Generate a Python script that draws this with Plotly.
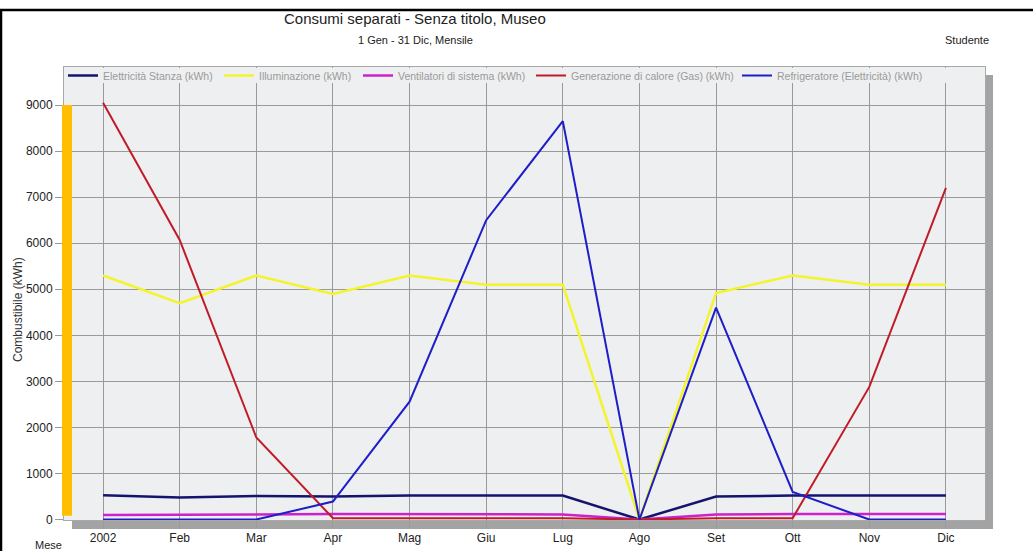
import plotly.graph_objects as go

W, H = 1033, 551
L, R, T, B = 64, 48, 67, 31
PW, PH = W - L - R, H - T - B

mesi = ["2002", "Feb", "Mar", "Apr", "Mag", "Giu", "Lug", "Ago", "Set", "Ott", "Nov", "Dic"]

elettricita_stanza = [530, 480, 510, 500, 520, 520, 520, 0, 500, 520, 520, 520]
illuminazione = [5300, 4700, 5300, 4900, 5300, 5100, 5100, 0, 4920, 5300, 5100, 5100]
ventilatori = [100, 100, 110, 120, 120, 120, 110, 0, 110, 120, 120, 120]
calore_gas = [9050, 6070, 1780, 30, 30, 30, 30, 0, 30, 30, 2880, 7200]
refrigeratore = [0, 0, 0, 390, 2560, 6500, 8650, 0, 4600, 600, 0, 0]

series = [
    ("Elettricità Stanza (kWh)", elettricita_stanza, "#14146e", 2.5, 103),
    ("Illuminazione (kWh)", illuminazione, "#f4f42c", 2.5, 259),
    ("Ventilatori di sistema (kWh)", ventilatori, "#cc22cc", 2.5, 398),
    ("Generazione di calore (Gas) (kWh)", calore_gas, "#c01c28", 2, 571),
    ("Refrigeratore (Elettricità) (kWh)", refrigeratore, "#1e1ec8", 2, 777),
]


def px_x(px):
    return (px - L) / PW


def px_y(py):
    return (H - B - py) / PH


fig = go.Figure()
legends = {}
for i, (name, vals, color, width, text_x) in enumerate(series):
    key = "legend" if i == 0 else f"legend{i + 1}"
    fig.add_trace(go.Scatter(
        x=mesi, y=vals, name=name, mode="lines",
        line=dict(color=color, width=width),
        legend=key,
    ))
    legends[key] = dict(
        x=px_x(text_x - 40), xanchor="left",
        y=px_y(61), yanchor="top",
        bgcolor="rgba(0,0,0,0)", borderwidth=0,
        font=dict(family="Liberation Sans, Arial", size=10.5, color="#9a9a9a"),
        orientation="h", tracegroupgap=0, itemclick=False,
    )

shapes = [
    # ombra grigia
    dict(type="rect", xref="paper", yref="paper", layer="below",
         x0=px_x(72), x1=px_x(993), y0=px_y(529), y1=px_y(75),
         fillcolor="#a3a3a3", line_width=0),
    # sfondo area grafico
    dict(type="rect", xref="paper", yref="paper", layer="below",
         x0=0, x1=1, y0=0, y1=1, fillcolor="#eeeff0", line_width=0),
    # fascia legenda (copre la griglia verticale)
    dict(type="rect", xref="paper", yref="paper", layer="above",
         x0=px_x(65), x1=px_x(984), y0=px_y(83), y1=px_y(68),
         fillcolor="#eeeff0", line_width=0),
    # barra arancione asse
    dict(type="rect", xref="paper", yref="y", layer="above",
         x0=px_x(62), x1=px_x(72), y0=80, y1=9000,
         fillcolor="#ffbf00", line_width=0),
    # cornice nera
    dict(type="line", xref="paper", yref="paper",
         x0=px_x(0), x1=px_x(W), y0=px_y(10), y1=px_y(10),
         line=dict(color="black", width=2.5)),
    dict(type="line", xref="paper", yref="paper",
         x0=px_x(1), x1=px_x(1), y0=px_y(10), y1=px_y(H),
         line=dict(color="black", width=2.5)),
]

fig.update_layout(
    width=W, height=H,
    margin=dict(l=L, r=R, t=T, b=B, autoexpand=False),
    paper_bgcolor="white",
    plot_bgcolor="rgba(0,0,0,0)",
    font=dict(family="Liberation Sans, Arial", size=11, color="#333"),
    showlegend=True,
    shapes=shapes,
    annotations=[
        dict(text="Consumi separati - Senza titolo, Museo", xref="paper", yref="paper",
             x=px_x(415), y=px_y(19), xanchor="center", yanchor="middle", showarrow=False,
             font=dict(size=15, color="#222")),
        dict(text="1 Gen - 31 Dic, Mensile", xref="paper", yref="paper",
             x=px_x(415), y=px_y(40), xanchor="center", yanchor="middle", showarrow=False,
             font=dict(size=11, color="#222")),
        dict(text="Studente", xref="paper", yref="paper",
             x=px_x(991), y=px_y(40), xanchor="right", yanchor="middle", showarrow=False,
             font=dict(size=11, color="#222")),
        dict(text="Mese", xref="paper", yref="paper",
             x=px_x(48), y=px_y(545), xanchor="center", yanchor="middle", showarrow=False,
             font=dict(size=11, color="#222")),
        dict(text="Combustibile (kWh)", xref="paper", yref="paper", textangle=-90,
             x=px_x(18), y=px_y(310), xanchor="center", yanchor="middle", showarrow=False,
             font=dict(size=12, color="#333")),
    ],
    xaxis=dict(
        type="category", range=[-0.51, 11.51], automargin=False,
        showgrid=True, gridcolor="#9a9a9a", gridwidth=1,
        ticks="outside", ticklen=7, tickcolor="#9a9a9a",
        showline=True, mirror=True, linecolor="#a8a8a8",
        tickfont=dict(size=12, color="#222"), zeroline=False,
    ),
    yaxis=dict(
        range=[-10, 9826], automargin=False,
        tickvals=[0, 1000, 2000, 3000, 4000, 5000, 6000, 7000, 8000, 9000],
        showgrid=True, gridcolor="#9a9a9a", gridwidth=1,
        ticks="outside", ticklen=8, tickcolor="#9a9a9a",
        showline=True, mirror=True, linecolor="#a8a8a8",
        tickfont=dict(size=12, color="#222"), zeroline=False,
    ),
    **legends,
)

fig.write_html("out.html", config={"displayModeBar": False},
               post_script="document.body.style.margin='0';")
